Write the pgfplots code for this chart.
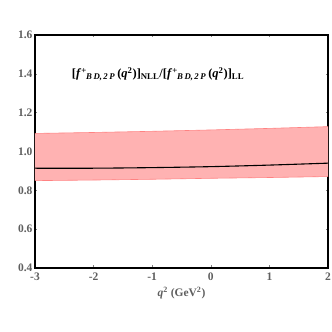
\documentclass[border=0pt]{standalone}
\usepackage{fontspec}
\setmainfont{Liberation Serif}
\usepackage{pgfplots}
\pgfplotsset{compat=1.18}
\usepgfplotslibrary{fillbetween}
\definecolor{bandfill}{RGB}{255,178,178}
\definecolor{bandedge}{RGB}{255,130,130}
\definecolor{ticktext}{RGB}{95,95,95}
\newcommand{\ffac}{\textit{f}\textsuperscript{+}\kern-0.5pt\textsubscript{\textit{B\,D,\,2\,P}}\,(\textit{q}\textsuperscript{2})}
\begin{document}
\begin{tikzpicture}
\begin{axis}[
  at={(0pt,0pt)}, anchor=south west,
  scale only axis, width=293pt, height=233pt,
  xmin=-3, xmax=2, ymin=0.4, ymax=1.6,
  xtick={-3,-2,...,2}, ytick={0.4,0.6,...,1.6},
  minor x tick num=4, minor y tick num=3,
  major tick length=2.5pt, minor tick length=1.2pt,
  tick style={gray, line width=0.4pt},
  axis line style={black, line width=1.2pt},
  /pgf/number format/assume math mode=true,
  /pgf/number format/fixed, /pgf/number format/fixed zerofill,
  yticklabel style={/pgf/number format/precision=1, font=\bfseries\fontsize{11.5}{13}\selectfont, text=ticktext, xshift=1pt},
  xticklabel style={/pgf/number format/precision=0, font=\bfseries\fontsize{11.5}{13}\selectfont, text=ticktext, yshift=-1pt},
  xlabel={\textbf{\textit{q}\textsuperscript{2} (GeV\textsuperscript{2})}},
  xlabel style={text=ticktext, font=\fontsize{11.5}{13}\selectfont, yshift=0pt}
]
\addplot[name path=up, bandedge, line width=0.6pt] coordinates {
  (-3,1.093) (-2,1.098) (-1,1.104) (0,1.111) (1,1.119) (2,1.128)
};
\addplot[name path=lo, bandedge, line width=0.6pt] coordinates {
  (-3,0.850) (-2,0.853) (-1,0.857) (0,0.862) (1,0.866) (2,0.871)
};
\addplot[bandfill] fill between[of=up and lo];
\addplot[black, line width=1.1pt, smooth] coordinates {
  (-3,0.914) (-2,0.914) (-1,0.917) (0,0.922) (1,0.930) (2,0.940)
};
\end{axis}
\path (123pt,194pt) node[font=\bfseries\fontsize{12.5}{14}\selectfont] {[\ffac]\textsubscript{NLL}/[\ffac]\textsubscript{LL}};
\pgfresetboundingbox
\useasboundingbox (-35pt,-64pt) rectangle (297pt,268pt);
\end{tikzpicture}
\end{document}
